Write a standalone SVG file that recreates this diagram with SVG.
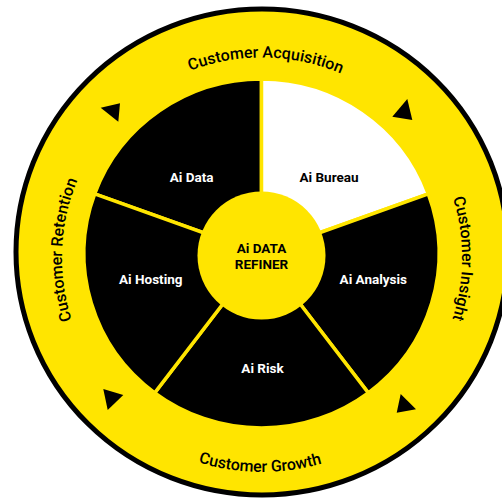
<svg xmlns="http://www.w3.org/2000/svg" width="502" height="502" viewBox="0 0 502 502">
<style>
.bg{fill:#fff}
.disk{fill:#FFE500;stroke:#000;stroke-width:5}
.sector{fill:#000;stroke:#FFE500;stroke-width:3.5;stroke-linejoin:round}
.sector.light{fill:#fff}
.hub{fill:#FFE500}
.lbl{font-family:Roboto,"Liberation Sans",sans-serif;font-size:13.5px;font-weight:700;text-anchor:middle;fill:#fff}
.lbl.dark{fill:#000}
.ring{font-family:Roboto,"Liberation Sans",sans-serif;font-size:16px;font-weight:500;fill:#000;text-anchor:middle}
.arrow{fill:#000}
</style>
<defs>
<path id="cw" d="M262,457.5 A200,200 0 1,1 262,57.5 A200,200 0 1,1 262,457.5"/>
<path id="ccw" d="M48,258 A214,214 0 0,0 476,258"/>
</defs>
<rect class="bg" x="0" y="0" width="502" height="502"/>
<g id="outer-ring">
<ellipse class="disk" cx="262" cy="252" rx="246" ry="243"/>
</g>
<g id="ai-data">
<path class="sector" d="M261.5,253.5 L94.7,193.8 A177.5,174.5 0 0,1 261.5,79 Z"/>
<text class="lbl" x="191.7" y="181.5">Ai Data</text>
</g>
<g id="ai-bureau">
<path class="sector light" d="M261.5,253.5 L261.5,79 A177.5,174.5 0 0,1 428.3,193.8 Z"/>
<text class="lbl dark" x="329" y="181.5">Ai Bureau</text>
</g>
<g id="ai-analysis">
<path class="sector" d="M261.5,253.5 L428.3,193.8 A177.5,174.5 0 0,1 368.3,392.9 Z"/>
<text class="lbl" x="373.3" y="283.7">Ai Analysis</text>
</g>
<g id="ai-risk">
<path class="sector" d="M261.5,253.5 L368.3,392.9 A177.5,174.5 0 0,1 154.7,392.9 Z"/>
<text class="lbl" x="262.5" y="372.7">Ai Risk</text>
</g>
<g id="ai-hosting">
<path class="sector" d="M261.5,253.5 L154.7,392.9 A177.5,174.5 0 0,1 94.7,193.8 Z"/>
<text class="lbl" x="150.8" y="284.3">Ai Hosting</text>
</g>
<g id="ai-data-refiner">
<circle class="hub" cx="261.5" cy="255.5" r="64"/>
<text class="lbl dark" x="261.5" y="253.3">Ai DATA</text>
<text class="lbl dark" x="261.5" y="269">REFINER</text>
</g>
<g id="ring-labels">
<text class="ring"><textPath href="#cw" startOffset="632">Customer Acquisition</textPath></text>
<text class="ring"><textPath href="#cw" startOffset="943.5">Customer Insight</textPath></text>
<text class="ring"><textPath href="#cw" startOffset="322">Customer Retention</textPath></text>
<text class="ring"><textPath href="#ccw" startOffset="334">Customer Growth</textPath></text>
</g>
<g id="connectors">
<polygon class="arrow" points="100.7,107.7 120,103.3 118.3,121.7"/>
<polygon class="arrow" points="407.3,99 392.3,116.7 412.3,120"/>
<polygon class="arrow" points="103.3,389 107.7,410 123.3,395"/>
<polygon class="arrow" points="400.7,394 396.7,412.7 416,409.3"/>
</g>
</svg>
